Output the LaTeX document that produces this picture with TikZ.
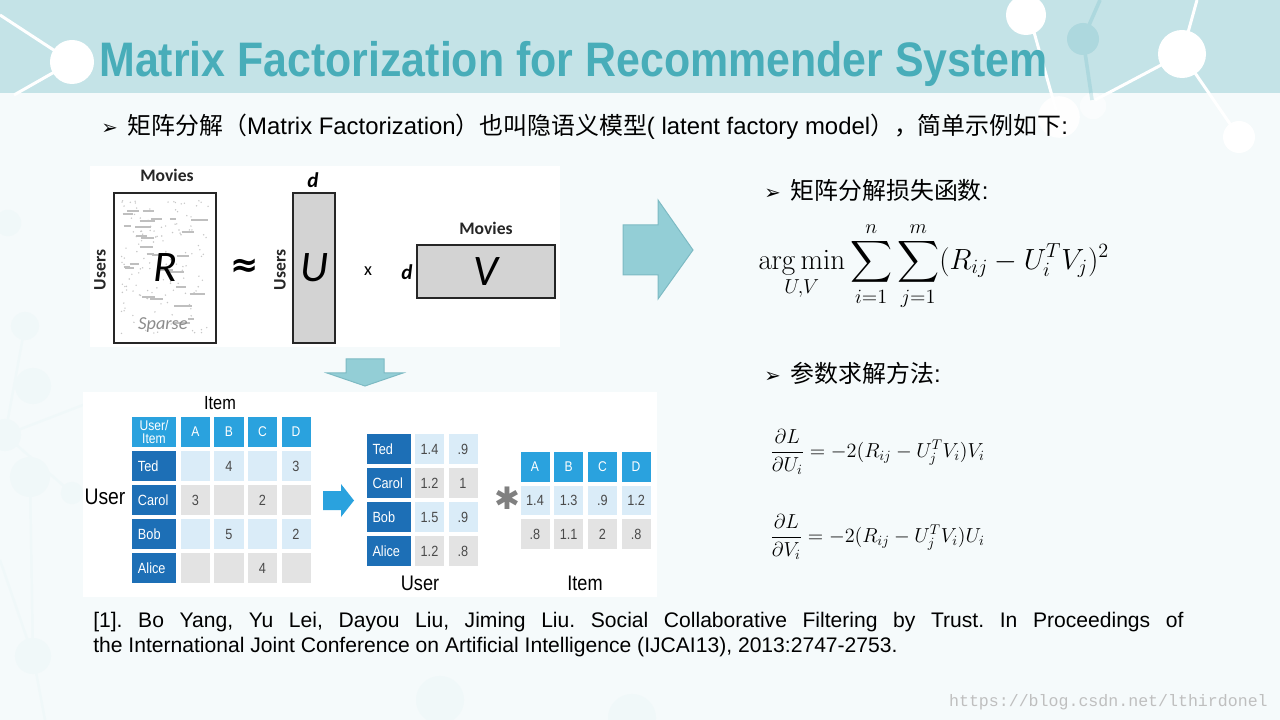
\documentclass[tikz,border=0pt]{standalone}
\usepackage{amsmath}
\usepackage[no-math]{fontspec}
\setmainfont{Liberation Sans}
\newfontfamily\cjk{Noto Sans CJK SC}
\newfontfamily\symfont{DejaVu Sans}
\newfontfamily\calibri{Carlito}
\newfontfamily\cellfont[FakeStretch=0.86]{Liberation Sans}
\newfontfamily\webfont{Liberation Mono}
\usetikzlibrary{positioning}

\definecolor{bodycol}{HTML}{F5FAFB}
\definecolor{bandcol}{HTML}{C4E3E7}
\definecolor{titlecol}{HTML}{48ADB9}
\definecolor{decoteal}{HTML}{ADD8DE}
\definecolor{arrowteal}{HTML}{93CED6}
\definecolor{arrowedge}{HTML}{7DBAC3}
\definecolor{namebl}{HTML}{1D6FB6}
\definecolor{headbl}{HTML}{2AA2DE}
\definecolor{lightbl}{HTML}{DAECF8}
\definecolor{lightgr}{HTML}{E3E3E3}
\definecolor{celltext}{HTML}{4A4A4A}
\definecolor{matgray}{HTML}{D3D3D3}

\newcommand{\bul}{{\symfont\fontsize{14}{14}\selectfont ➢}}
\frenchspacing

\begin{document}
\begin{tikzpicture}[x=0.025cm, y=-0.025cm,
    deco/.style={white, line width=0.075cm},
    bigarrow/.style={fill=arrowteal, draw=arrowedge, line width=0.025cm},
    bullet/.style={anchor=base west, inner sep=0, font=\fontsize{17}{20}\selectfont},
    formula/.style={anchor=west, inner sep=0},
    imglbl/.style={inner sep=0, text=black!85, font=\calibri\bfseries\fontsize{12.5}{14}\selectfont},
    matbox/.style={draw=black!85, line width=0.065cm, inner sep=0, font=\calibri\itshape\fontsize{31}{34}\selectfont},
    dlbl/.style={inner sep=0, font=\calibri\bfseries\itshape\fontsize{15}{16}\selectfont},
    tbllbl/.style={inner sep=0, font=\cellfont\fontsize{15}{17}\selectfont},
    headcell/.style={fill=headbl, text=white, minimum width=0.725cm, minimum height=0.725cm, inner sep=0, align=center, font=\cellfont\fontsize{10}{10}\selectfont},
    namecell/.style={fill=namebl, text=white, minimum height=0.735cm, text width=0.8cm, inner xsep=0.15cm, inner ysep=0, align=left, font=\cellfont\fontsize{10.5}{12}\selectfont},
    datacell/.style={text=celltext, minimum width=0.725cm, minimum height=0.735cm, inner sep=0, font=\cellfont\fontsize{10.5}{12}\selectfont}
]
\useasboundingbox (0,0) rectangle (1280,720);
% background
\fill[bodycol] (0,0) rectangle (1280,720);
\fill[bandcol] (0,0) rectangle (1280,93);

% faint network on the left and bottom
\begin{scope}[bandcol!25, line width=0.06cm]
\draw (25,326) -- (5,435) -- (72,493);
\draw (0,437) -- (83,405);
\draw (30,477) -- (33,656) -- (45,720);
\draw (0,560) -- (33,656);
\fill (8,223) circle[radius=0.33cm];
\fill (25,326) circle[radius=0.35cm];
\fill (33,386) circle[radius=0.45cm];
\fill (5,435) circle[radius=0.4cm];
\fill (30,477) circle[radius=0.5cm];
\fill (72,493) circle[radius=0.28cm];
\fill (33,656) circle[radius=0.45cm];
\fill (440,700) circle[radius=0.6cm];
\fill (632,718) circle[radius=0.6cm];
\end{scope}

% network on the title band
\draw[deco] (0,15) -- (72,62) -- (14,95);
\fill[white] (72,62) circle[radius=0.55cm];
\draw[deco] (1032,25) -- (1056,110);
\draw[decoteal, line width=0.09cm] (1100,0) -- (1083,39) -- (1092,100);
\draw[deco] (1197,0) -- (1182,54) -- (1239,137);
\draw[deco] (1182,54) -- (1095,100);
\fill[white] (1026,15) circle[radius=0.5cm];
\fill[decoteal] (1083,39) circle[radius=0.4cm];
\fill[white] (1182,54) circle[radius=0.6cm];
\fill[white] (1239,137) circle[radius=0.4cm];
\fill[white, opacity=0.9] (1059,117) circle[radius=0.52cm];
\fill[white, opacity=0.5] (1093,106) circle[radius=0.33cm];

% title and bullets
\node[anchor=base west, inner sep=0, text=titlecol, font=\fontsize{30.5}{36}\selectfont\bfseries] (title) at (99,77) {\scalebox{1}[1.13]{Matrix Factorization for Recommender System}};
\node[bullet] (intro) at (101,135) {\bul\hspace{7pt}{\cjk 矩阵分解（}Matrix Factorization{\cjk ）也叫隐语义模型}( latent factory model{\cjk ），简单示例如下}:};
\node[bullet] (losshd) at (764,200) {\bul\hspace{7pt}{\cjk 矩阵分解损失函数}:};
\node[bullet] (solvehd) at (764,383) {\bul\hspace{7pt}{\cjk 参数求解方法}:};

% formulas
\node[formula, font=\fontsize{20}{24}\selectfont] (loss) at (758,266)
  {$\displaystyle \mathop{\arg\min}_{U,V}\sum_{i=1}^{n}\sum_{j=1}^{m}(R_{ij}-U_i^TV_j)^2$};
\node[formula, font=\fontsize{14.5}{18}\selectfont] (gradu) at (770,452)
  {$\displaystyle \frac{\partial L}{\partial U_i}=-2(R_{ij}-U_j^TV_i)V_i$};
\node[formula, font=\fontsize{14.5}{18}\selectfont] (gradv) at (770,537)
  {$\displaystyle \frac{\partial L}{\partial V_i}=-2(R_{ij}-U_j^TV_i)U_i$};

% R = U x V picture
\fill[white] (90,166) rectangle (560,347);
\node[matbox, fill=white, minimum width=2.55cm, minimum height=3.75cm] (rbox) at (165,268) {};
\pgfmathsetseed{11}
\foreach \k in {1,...,140}
  \fill[black!22] (121+rnd*88, 200+rnd*134) circle[radius=0.02cm];
\foreach \k in {1,...,28}
  \draw[black!25, line width=0.05cm] (122+rnd*70, 202+rnd*125) -- ++(6+rnd*12,0);
\node[inner sep=0, font=\calibri\itshape\fontsize{31}{34}\selectfont] (rlet) at (rbox.center) {R};
\node[inner sep=0, text=black!45, font=\calibri\itshape\fontsize{13}{14}\selectfont] (sparse) at (163,325) {Sparse};
\node[imglbl] (movr) at (167,175) {Movies};
\node[imglbl, rotate=90] (usr) at (100,270) {Users};
\node[inner sep=0, font=\symfont\bfseries\fontsize{24}{24}\selectfont] (approx) at (245,268) {≈};
\node[matbox, fill=matgray, minimum width=1.05cm, minimum height=3.75cm] (ubox) at (314,268) {U};
\node[dlbl] (du) at (313,180) {d};
\node[imglbl, rotate=90] (usu) at (280,270) {Users};
\node[inner sep=0, font=\calibri\fontsize{13}{14}\selectfont] (times) at (368,271) {x};
\node[matbox, fill=matgray, minimum width=3.45cm, minimum height=1.325cm] (vbox) at (486,271.5) {V};
\node[dlbl] (dv) at (407,272) {d};
\node[imglbl] (movv) at (486,228) {Movies};

% block arrows
\draw[bigarrow] (623,225) -- (658,225) -- (658,200) -- (693,250) -- (658,299) -- (658,275) -- (623,275) -- cycle;
\draw[bigarrow] (346,359) -- (384,359) -- (384,373) -- (403,373) -- (365,386) -- (327,373) -- (346,373) -- cycle;

% rating tables
\fill[white] (83,392) rectangle (657,597);
\node[tbllbl, font=\cellfont\fontsize{13.5}{15}\selectfont] (itemtop) at (220,403) {Item};
\node[tbllbl, font=\cellfont\fontsize{16}{18}\selectfont] (userleft) at (105,497) {User};
\node[headcell, minimum width=1.1cm, font=\cellfont\fontsize{10}{9.5}\selectfont] (corner) at (154,432) {User/\\Item};
\foreach \lt [count=\c] in {A,B,C,D}
  \node[headcell] (hd-\c) at (162+33.5*\c,432) {\lt};
\foreach \nm/\fc/\vals [count=\r] in {Ted/lightbl/{{},4,{},3}, Carol/lightgr/{3,{},2,{}}, Bob/lightbl/{{},5,{},2}, Alice/lightgr/{{},{},4,{}}}{
  \node[namecell] (nm-\r) at (154,432+34*\r) {\nm};
  \foreach \v [count=\c] in \vals
    \node[datacell, fill=\fc] (rt-\r-\c) at (162+33.5*\c,432+34*\r) {\v};
}
\fill[headbl] (323,491) -- (341,491) -- (341,484) -- (354,500.5) -- (341,517) -- (341,510) -- (323,510) -- cycle;

% user factors
\foreach \nm/\fc/\vals [count=\r] in {Ted/lightbl/{1.4,.9}, Carol/lightgr/{1.2,1}, Bob/lightbl/{1.5,.9}, Alice/lightgr/{1.2,.8}}{
  \node[namecell] (un-\r) at (388.5,415+34*\r) {\nm};
  \foreach \v [count=\c] in \vals
    \node[datacell, fill=\fc] (uf-\r-\c) at (396+33.5*\c,415+34*\r) {\v};
}
\node[tbllbl] (userbot) at (420,583) {User};
\node[inner sep=0, text=black!50, font=\symfont\fontsize{22}{22}\selectfont] (star) at (507,498) {✱};

% item factors
\foreach \lt [count=\c] in {A,B,C,D}
  \node[headcell] (ih-\c) at (501.3+33.7*\c,467) {\lt};
\foreach \fc/\vals [count=\r] in {lightbl/{1.4,1.3,.9,1.2}, lightgr/{.8,1.1,2,.8}}{
  \foreach \v [count=\c] in \vals
    \node[datacell, fill=\fc] (if-\r-\c) at (501.3+33.7*\c,467+33.5*\r) {\v};
}
\node[tbllbl] (itembot) at (585,583) {Item};

% reference and watermark
\node[anchor=north west, inner sep=0, text width=27.25cm, align=justify, font=\fontsize{15}{17.8}\selectfont] (ref) at (93,612)
  {[1]. Bo Yang, Yu Lei, Dayou Liu, Jiming Liu. Social Collaborative Filtering by Trust. In Proceedings of\linebreak the International Joint Conference on Artificial Intelligence (IJCAI13), 2013:2747-2753.};
\node[anchor=base east, inner sep=0, text=black!25, font=\webfont\fontsize{11.8}{12}\selectfont] (mark) at (1268,706) {https://blog.csdn.net/lthirdonel};
\end{tikzpicture}
\end{document}
